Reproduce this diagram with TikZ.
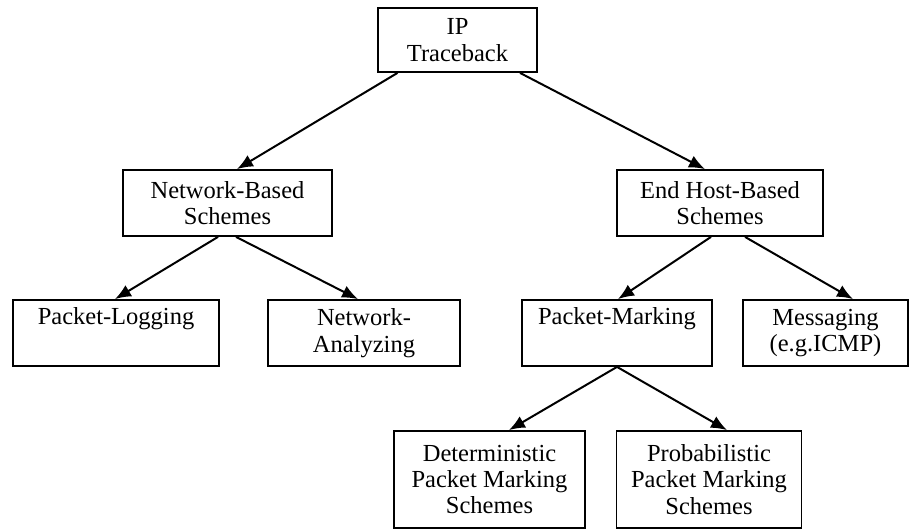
\documentclass[tikz,border=0pt]{standalone}
\usepackage{fontspec}
\setmainfont{Liberation Serif}
\usetikzlibrary{arrows.meta}

\begin{document}
\begin{tikzpicture}[
    x=1pt, y=-1pt,
    box/.style={draw, line width=1.8pt, align=center, inner sep=0pt,
        font=\fontsize{24.5}{26.5}\selectfont},
    arrow/.style={-{Latex[length=16pt,width=13pt]}, line width=2pt}
]
\useasboundingbox (0,0) rectangle (922,531);

% Root
\node[box, minimum width=159pt, minimum height=64pt] (ip) at (457.5,40) {IP\\Traceback};

% Second level
\node[box, minimum width=209pt, minimum height=66pt] (nb) at (227.5,203) {Network-Based\\Schemes};
\node[box, minimum width=206pt, minimum height=66pt] (eh) at (720,203) {End Host-Based\\Schemes};

% Third level
\node[box, minimum width=206pt, minimum height=66pt] (pl) at (116,333) {Packet-Logging\\\strut};
\node[box, minimum width=192pt, minimum height=66pt] (na) at (364,333) {Network-\\Analyzing};
\node[box, minimum width=190pt, minimum height=66pt] (pm) at (617,333) {Packet-Marking\\\strut};
\node[box, minimum width=165pt, minimum height=66pt] (ms) at (825.5,333) {Messaging\\(e.g.ICMP)};

% Fourth level
\node[box, minimum width=191pt, minimum height=97pt] (dp) at (489.5,479.5) {Deterministic\\Packet Marking\\Schemes};
\node[box, minimum width=185pt, minimum height=97pt] (pp) at (709,479.5) {Probabilistic\\Packet Marking\\Schemes};

% Connectors
\draw[arrow] ([xshift=-60pt]ip.south) -- ([xshift=9.5pt]nb.north);
\draw[arrow] ([xshift=62.5pt]ip.south) -- ([xshift=-15pt]eh.north);
\draw[arrow] ([xshift=-9.5pt]nb.south) -- ([xshift=-1pt]pl.north);
\draw[arrow] ([xshift=8.5pt]nb.south) -- ([xshift=-6pt]na.north);
\draw[arrow] ([xshift=-9pt]eh.south) -- ([xshift=1pt]pm.north);
\draw[arrow] ([xshift=25pt]eh.south) -- ([xshift=27.5pt]ms.north);
\draw[arrow] (pm.south) -- ([xshift=19.5pt]dp.north);
\draw[arrow] (pm.south) -- ([xshift=18pt]pp.north);

\end{tikzpicture}
\end{document}
